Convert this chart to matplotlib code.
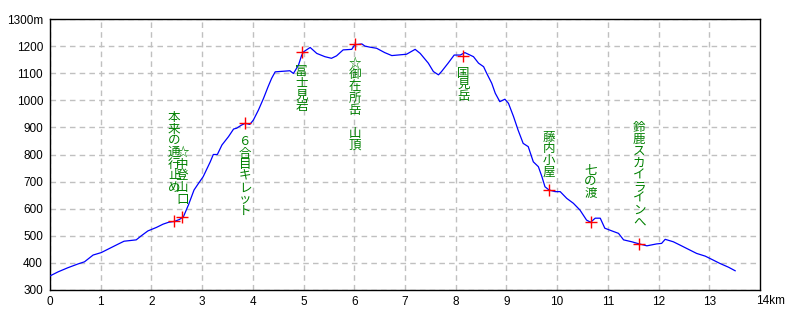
import matplotlib
matplotlib.use("Agg")
import matplotlib.pyplot as plt
from matplotlib.transforms import offset_copy

# ---- data ----
dist_km = [0.00, 0.16, 0.35, 0.55, 0.68, 0.85, 1.01, 1.18, 1.34, 1.46, 1.70, 1.80, 1.93,
           2.10, 2.23, 2.34, 2.45, 2.55, 2.63, 2.73, 2.84, 2.93, 3.02, 3.16, 3.22, 3.30,
           3.39, 3.52, 3.62, 3.68, 3.78, 3.85, 3.94, 4.01, 4.11, 4.21, 4.30, 4.37, 4.44,
           4.73, 4.80, 4.90, 4.96, 5.00, 5.13, 5.26, 5.42, 5.55, 5.65, 5.78, 5.95, 6.01,
           6.15, 6.21, 6.31, 6.44, 6.60, 6.74, 7.03, 7.20, 7.30, 7.46, 7.56, 7.66, 7.72,
           7.85, 7.97, 8.09, 8.18, 8.35, 8.45, 8.55, 8.61, 8.71, 8.78, 8.87, 8.97, 9.04,
           9.14, 9.23, 9.33, 9.43, 9.53, 9.63, 9.70, 9.76, 9.84, 9.96, 10.06, 10.19, 10.32,
           10.45, 10.58, 10.66, 10.75, 10.85, 10.94, 11.08, 11.21, 11.31, 11.47, 11.62,
           11.77, 11.96, 12.06, 12.13, 12.29, 12.42, 12.59, 12.75, 12.92, 13.05, 13.21,
           13.38, 13.51]
elev_m = [352, 367, 382, 396, 404, 429, 438, 454, 469, 480, 485, 500, 518,
          531, 543, 550, 553, 560, 570, 614, 669, 694, 718, 773, 800, 800,
          835, 866, 894, 897, 909, 915, 911, 927, 964, 1007, 1050, 1081, 1105,
          1109, 1099, 1130, 1165, 1179, 1195, 1173, 1161, 1155, 1164, 1186, 1188, 1205,
          1208, 1200, 1196, 1192, 1176, 1165, 1170, 1188, 1173, 1137, 1106, 1094, 1106,
          1137, 1167, 1167, 1176, 1161, 1137, 1124, 1100, 1063, 1026, 995, 1004, 989,
          940, 890, 841, 829, 773, 755, 718, 681, 669, 663, 663, 638, 620,
          595, 558, 550, 565, 565, 528, 518, 509, 485, 478, 470,
          463, 470, 472, 487, 478, 466, 450, 435, 425, 413, 398,
          384, 371]

wp_km = [2.45, 2.61, 3.85, 4.96, 6.01, 8.15, 9.84, 10.66, 11.62]
wp_m = [553, 568, 915, 1180, 1207, 1163, 669, 550, 470]
wp_names = ["本来の通行止め", "☆中登山口", "６合目キレット", "富士見岩", "☆御在所岳　山頂",
            "国見岳", "藤内小屋", "七の渡", "鈴鹿スカイラインへ"]
# pixel offset of first character centre from the waypoint (positive = below)
wp_label_off = [-104, -65, 18, 20, 19, 17, -53, -53, -116]

x_ticks = list(range(0, 14))
x_ticklabels = [str(v) for v in x_ticks]
y_ticks = list(range(300, 1301, 100))
y_ticklabels = [str(v) for v in y_ticks[:-1]] + ["1300m"]

# ---- figure ----
fig = plt.figure(figsize=(8, 3.2), dpi=100)
ax = fig.add_axes([50 / 800, 30 / 320, 710 / 800, 271 / 320])
ax.set_xlim(0, 14)
ax.set_ylim(300, 1300)

tick_family = ["Liberation Sans", "DejaVu Sans"]
ax.set_xticks(x_ticks)
ax.set_xticklabels(x_ticklabels, fontsize=8.5, family=tick_family)
ax.set_yticks(y_ticks)
ax.set_yticklabels(y_ticklabels, fontsize=8.5, family=tick_family)
ax.tick_params(axis="both", length=0, colors="black")
ax.tick_params(axis="y", pad=5)
ax.tick_params(axis="x", pad=4)
ax.text(14, 300, "14km", ha="left", va="top", fontsize=8.5, family=tick_family,
        transform=offset_copy(ax.transData, fig=fig, x=-4, y=-5, units="dots"))

ax.grid(True, color="#c0c0c0", linestyle=(0, (4, 3)), linewidth=1.0)
ax.set_axisbelow(True)
for sp in ax.spines.values():
    sp.set_color("black")
    sp.set_linewidth(1.0)

ax.plot(dist_km, elev_m, color="#0000ff", linewidth=0.9, zorder=3)
ax.plot(wp_km, wp_m, linestyle="none", marker="+", markersize=9, markeredgewidth=1.0,
        color="#ff0000", zorder=4)

cjk = ["Noto Sans CJK JP", "DejaVu Sans"]
spacing = 11.7
for km, m, name, off in zip(wp_km, wp_m, wp_names, wp_label_off):
    for i, ch in enumerate(name):
        if ch == "　" or ch.strip() == "":
            continue
        ax.annotate(ch, xy=(km, m), xytext=(0, -(off + i * spacing)),
                    textcoords="offset pixels", ha="center", va="center",
                    color="#008000", fontsize=9, family=cjk, zorder=5)

fig.savefig("out.png", dpi=100, facecolor="white")
